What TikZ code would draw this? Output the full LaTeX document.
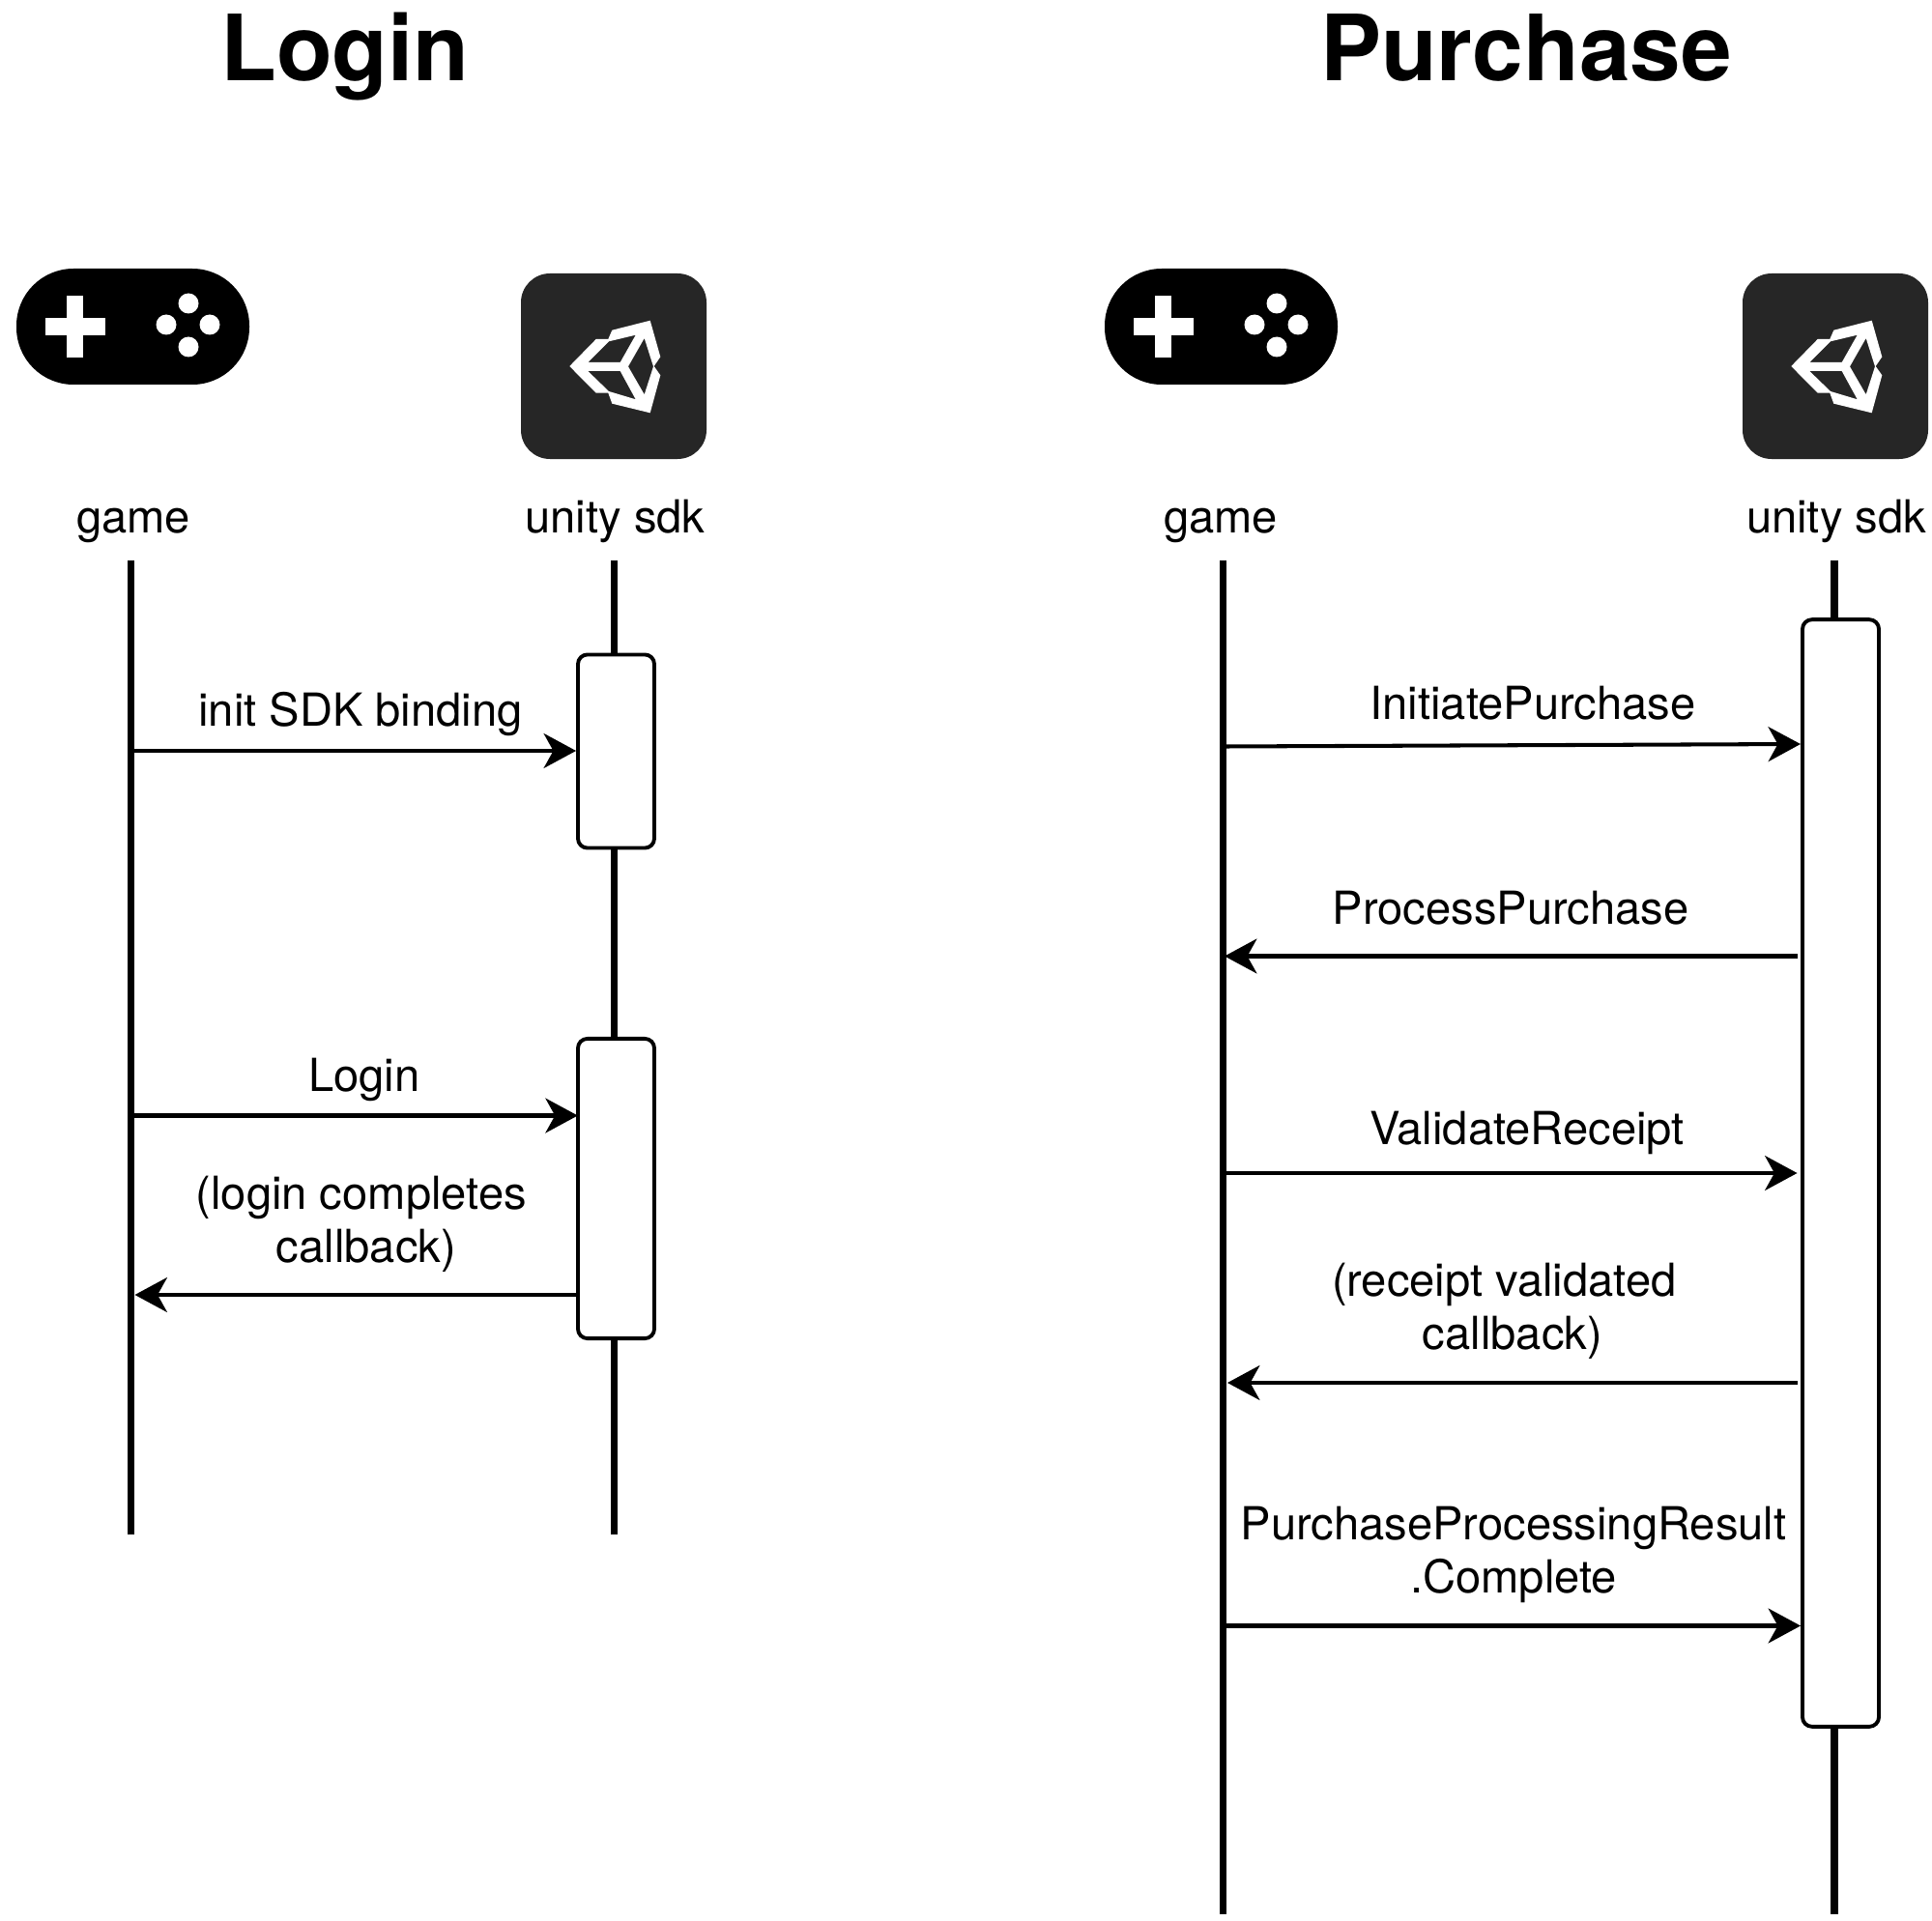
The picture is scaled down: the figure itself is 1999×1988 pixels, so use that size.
\documentclass[tikz,border=0pt]{standalone}
\usepackage{fontspec}
\setmainfont{TeX Gyre Heros}
\usetikzlibrary{arrows.meta}
\definecolor{unitygrey}{HTML}{262626}
\tikzset{
  title/.style={font=\fontsize{26.9}{30}\selectfont\bfseries, anchor=base},
  lbl/.style={font=\fontsize{13.4}{15.7}\selectfont, anchor=base},
  lbltwo/.style={font=\fontsize{13.4}{15.7}\selectfont, align=center},
  life/.style={line width=2.1pt},
  actbox/.style={draw, line width=1.1pt, fill=white, rounded corners=2.8pt, minimum width=0.79cm},
  msg/.style={line width=1.15pt, -{Stealth[length=9.5pt, width=10.2pt, inset=2.8pt]}},
  gamepad/.pic={
    \fill[black, rounded corners=0.59cm] (0,0) rectangle (241,120);
    \fill[white] (52,28) rectangle (69,92);
    \fill[white] (30,51) rectangle (92,69);
    \fill[white] (178,36) circle [radius=10.5];
    \fill[white] (155,58) circle [radius=10.5];
    \fill[white] (200,58) circle [radius=10.5];
    \fill[white] (178,81) circle [radius=10.5];
  },
  unitylogo/.pic={
    \fill[unitygrey, rounded corners=0.3cm] (0,0) rectangle (192,192);
    \fill[white, even odd rule]
      (50.3,96) -- (77.7,68) -- (90.3,68) -- (94.3,58.7) -- (133.7,48.7) -- (144.3,86.3)
      -- (137.7,96) -- (144.3,105.3) -- (133.7,144.3) -- (94.3,134.7) -- (90.3,123.7) -- (77.7,123.7) -- cycle
      (69.3,92) -- (91,70.3) -- (118.7,63.7) -- (102.7,92) -- cycle
      (69.3,101) -- (102.7,101) -- (118.7,130.3) -- (91,122) -- cycle
      (127.7,67) -- (111,96.3) -- (127.7,125.3) -- (137,96.3) -- cycle;
  },
}
\begin{document}
\begin{tikzpicture}[x=0.01cm, y=-0.01cm]
  \useasboundingbox (0,0) rectangle (1999,1988);

  % titles
  \node[title] (loginTitle) at (357,84) {Login};
  \node[title] (purchaseTitle) at (1579,84) {Purchase};

  % icons
  \pic at (17,278) {gamepad};
  \pic at (1143,278) {gamepad};
  \pic at (539,283) {unitylogo};
  \pic at (1803,283) {unitylogo};

  % login lifelines
  \node[lbl] (gameL) at (138,551) {game};
  \node[lbl] (sdkL) at (636.5,551) {unity sdk};
  \coordinate (gameLtop) at (135.5,580);
  \coordinate (gameLend) at (135.5,1588);
  \coordinate (sdkLtop) at (635.5,580);
  \coordinate (sdkLend) at (635.5,1588);
  \draw[life] (gameLtop) -- (gameLend);
  \draw[life] (sdkLtop) -- (sdkLend);
  \node[actbox, minimum height=2.0cm] (boxInit) at (637.5,777.5) {};
  \node[actbox, minimum height=3.1cm] (boxLogin) at (637.5,1230) {};

  % login messages
  \coordinate (mInit) at (136,777);
  \coordinate (mLogin) at (136,1154.5);
  \coordinate (mDone) at (139.5,1340);
  \draw[msg] (mInit) -- (boxInit.west |- mInit);
  \draw[msg] (mLogin) -- ([xshift=0.5pt]boxLogin.west |- mLogin);
  \draw[msg] (boxLogin.west |- mDone) -- (mDone);
  \node[lbl] (lInit) at (373,751.5) {init SDK binding};
  \node[lbl] (lLogin) at (377,1129) {Login};
  \node[lbltwo] (lDone) at (379,1267) {(login completes\hspace*{3pt}\\callback)};

  % purchase lifelines
  \node[lbl] (gameP) at (1263,551) {game};
  \node[lbl] (sdkP) at (1900,551) {unity sdk};
  \coordinate (gamePtop) at (1265.5,580);
  \coordinate (gamePend) at (1265.5,1981);
  \coordinate (sdkPtop) at (1898,580);
  \coordinate (sdkPend) at (1898,1981);
  \draw[life] (gamePtop) -- (gamePend);
  \draw[life] (sdkPtop) -- (sdkPend);
  \node[actbox, minimum height=11.45cm] (boxPay) at (1904.5,1214) {};

  % purchase messages
  \coordinate (mInitiate) at (1266,772.5);
  \coordinate (mInitiateEnd) at (1863,770);
  \coordinate (mProcess) at (1267,989.5);
  \coordinate (mValidate) at (1266,1214);
  \coordinate (mReceipt) at (1270,1431);
  \coordinate (mComplete) at (1266,1682.5);
  \draw[msg] (mInitiate) -- (mInitiateEnd);
  \draw[msg] ([xshift=-0.8pt]boxPay.west |- mProcess) -- (mProcess);
  \draw[msg] (mValidate) -- ([xshift=-1pt]boxPay.west |- mValidate);
  \draw[msg] ([xshift=-0.8pt]boxPay.west |- mReceipt) -- (mReceipt);
  \draw[msg] (mComplete) -- (boxPay.west |- mComplete);
  \node[lbl] (lInitiate) at (1586,744) {InitiatePurchase};
  \node[lbl] (lProcess) at (1563,956) {ProcessPurchase};
  \node[lbl] (lValidate) at (1580,1184) {ValidateReceipt};
  \node[lbltwo] (lReceipt) at (1565,1357) {(receipt validated\hspace*{5pt}\\callback)};
  \node[lbltwo] (lComplete) at (1566,1609) {PurchaseProcessingResult\\.Complete};
\end{tikzpicture}
\end{document}
